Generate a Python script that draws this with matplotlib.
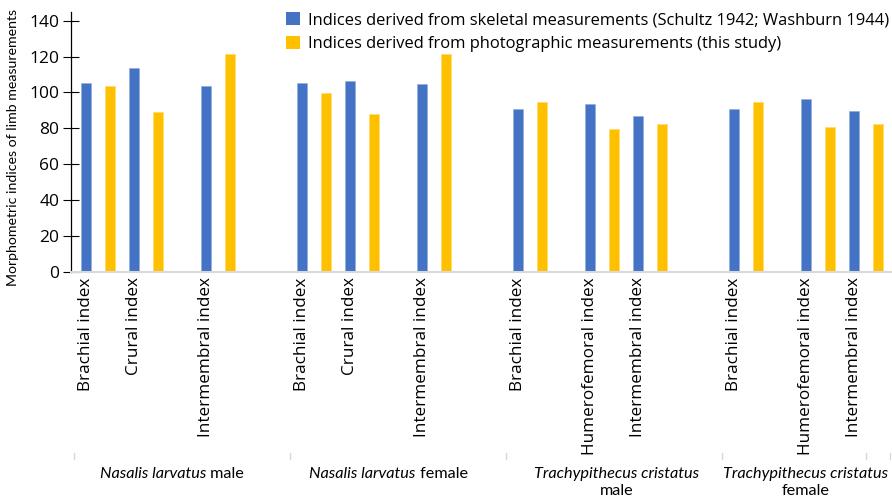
import matplotlib
matplotlib.use('Agg')
import matplotlib.pyplot as plt
from matplotlib.transforms import blended_transform_factory
from matplotlib.offsetbox import TextArea, HPacker, AnnotationBbox
from matplotlib.patches import Patch

# ---------------- data ----------------
group_species = ['Nasalis larvatus', 'Nasalis larvatus',
                 'Trachypithecus cristatus', 'Trachypithecus cristatus']
group_sex = ['male', 'female', 'male', 'female']
group_slots = [9, 9, 9, 7]

index_names = [['Brachial index', 'Crural index', 'Intermembral index'],
               ['Brachial index', 'Crural index', 'Intermembral index'],
               ['Brachial index', 'Humerofemoral index', 'Intermembral index'],
               ['Brachial index', 'Humerofemoral index', 'Intermembral index']]
index_slot = [[0, 2, 5], [0, 2, 5], [0, 3, 5], [0, 3, 5]]

skeletal = [[105.3, 113.7, 103.8],
            [105.0, 106.6, 104.7],
            [91.0, 93.6, 86.7],
            [90.6, 96.4, 89.5]]
photographic = [[103.8, 88.8, 121.5],
                [99.9, 88.2, 121.3],
                [94.4, 79.6, 82.4],
                [94.4, 80.8, 82.4]]

series_labels = ['Indices derived from skeletal measurements (Schultz 1942; Washburn 1944)',
                 'Indices derived from photographic measurements (this study)']
y_label = 'Morphometric indices of limb measurements'
y_ticks = [0, 20, 40, 60, 80, 100, 120, 140]

BLUE = '#4472C4'
YELLOW = '#FFC000'
GRID = '#D9D9D9'

W, H = 892, 501
fig = plt.figure(figsize=(W / 100, H / 100), dpi=100)

def fx(px):
    return px / W

def fy(py):
    return 1 - py / H

ax = fig.add_axes([fx(71), fy(271.7), fx(891) - fx(71), fy(11.7) - fy(271.7)])

starts = []
s = 0
for n in group_slots:
    starts.append(s)
    s += n

blue_x, blue_v, yel_x, yel_v, tick_x, tick_lab = [], [], [], [], [], []
for g in range(4):
    for k in range(3):
        xb = starts[g] + index_slot[g][k]
        blue_x.append(xb)
        blue_v.append(skeletal[g][k])
        yel_x.append(xb + 1)
        yel_v.append(photographic[g][k])
        tick_x.append(xb)
        tick_lab.append(index_names[g][k])

bw = 0.4
ax.bar(blue_x, blue_v, width=bw, color=BLUE, edgecolor='#8FAADC', linewidth=0.4)
ax.bar(yel_x, yel_v, width=bw, color=YELLOW, edgecolor='#FFD966', linewidth=0.4)

ax.set_xlim(-0.625, 33.54)
ax.set_ylim(0, 145)

for sp in ['top', 'right']:
    ax.spines[sp].set_visible(False)
ax.spines['left'].set_color('black')
ax.spines['left'].set_linewidth(0.9)
ax.spines['bottom'].set_color(GRID)
ax.spines['bottom'].set_linewidth(1.5)

TICKFONT = ['Open Sans', 'DejaVu Sans']
CALFONT = ['Lato', 'DejaVu Sans']

ax.set_yticks(y_ticks)
ax.set_yticklabels([str(v) for v in y_ticks], family=TICKFONT, fontsize=12.5)
ax.tick_params(axis='y', direction='inout', length=11, width=0.8, pad=3)

ax.set_xticks(tick_x)
ax.set_xticklabels(tick_lab, rotation=90, family=TICKFONT, fontsize=12.3,
                   ha='center', va='top')
ax.tick_params(axis='x', length=0, pad=4)

fig.text(fx(13), fy(148), y_label, rotation=90, ha='center', va='center',
         family=CALFONT, fontsize=10.2)

# group dividers
bt = blended_transform_factory(ax.transData, fig.transFigure)
div_x = [-0.5] + [starts[g] - 0.5 for g in range(1, 4)] + [32.5, 33.5]
for dx in div_x:
    ax.plot([dx, dx], [fy(453), fy(459)], color=GRID, lw=1, transform=bt,
            clip_on=False)

# group labels
GFS = 11.7
label_shift = [-0.42, -0.4, 0.1, 0.0]
for g in range(4):
    cx = starts[g] + (group_slots[g] - 1) / 2 + label_shift[g]
    if g < 2:
        box = HPacker(children=[
            TextArea(group_species[g], textprops=dict(style='italic', family=CALFONT, fontsize=GFS)),
            TextArea(' ' + group_sex[g], textprops=dict(family=CALFONT, fontsize=GFS))],
            align='baseline', pad=0, sep=0)
        ab = AnnotationBbox(box, (cx, fy(474)), xycoords=bt, box_alignment=(0.5, 0.5),
                            frameon=False, pad=0, annotation_clip=False)
        ax.add_artist(ab)
    else:
        ax.text(cx, fy(474), group_species[g], transform=bt, ha='center', va='center',
                style='italic', family=CALFONT, fontsize=GFS, clip_on=False)
        ax.text(cx, fy(491), group_sex[g], transform=bt, ha='center', va='center',
                family=CALFONT, fontsize=GFS, clip_on=False)

handles = [Patch(facecolor=BLUE, edgecolor='none'), Patch(facecolor=YELLOW, edgecolor='none')]
fig.legend(handles, series_labels, loc='upper left', bbox_to_anchor=(fx(283), fy(9)),
           frameon=False, prop=dict(family=TICKFONT, size=11.9),
           handlelength=0.85, handleheight=0.85, handletextpad=0.45,
           labelspacing=0.45, borderaxespad=0, borderpad=0.2)

fig.savefig('out.png', dpi=100)
